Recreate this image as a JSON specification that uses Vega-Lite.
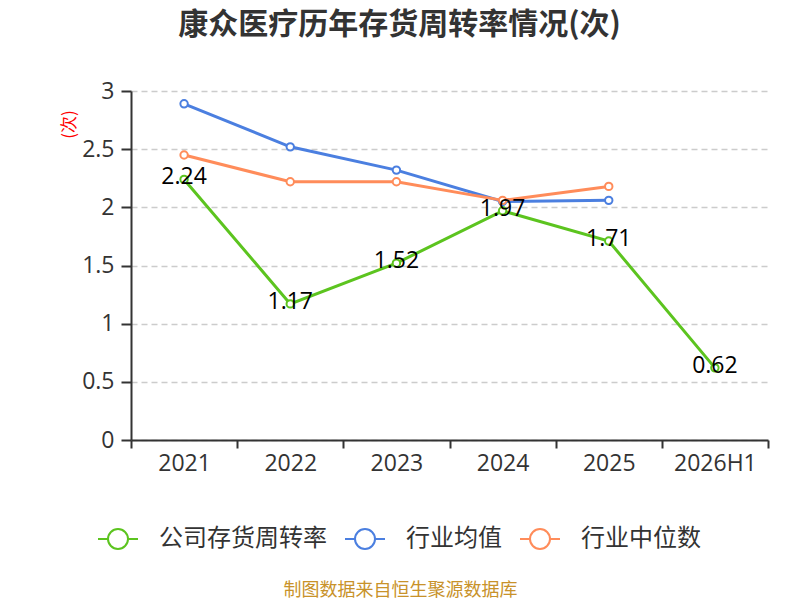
{
  "$schema": "https://vega.github.io/schema/vega-lite/v6.json",
  "width": 637,
  "height": 349,
  "autosize": {"type": "none"},
  "padding": {"left": 131, "top": 91, "right": 32, "bottom": 160},
  "background": "white",
  "title": {
    "text": "康众医疗历年存货周转率情况(次)",
    "anchor": "middle",
    "frame": "group",
    "dx": -50,
    "offset": 40,
    "fontSize": 30,
    "fontWeight": "bold",
    "font": "Noto Sans CJK SC",
    "color": "#333333"
  },
  "config": {
    "view": {"stroke": null},
    "axis": {
      "labelFont": "Open Sans",
      "labelFontSize": 23,
      "labelColor": "#333333",
      "domainColor": "#333333",
      "tickColor": "#333333",
      "domainWidth": 2,
      "tickWidth": 2
    }
  },
  "data": {
    "values": [
      {"year": "2021", "series": "公司存货周转率", "value": 2.24},
      {"year": "2022", "series": "公司存货周转率", "value": 1.17},
      {"year": "2023", "series": "公司存货周转率", "value": 1.52},
      {"year": "2024", "series": "公司存货周转率", "value": 1.97},
      {"year": "2025", "series": "公司存货周转率", "value": 1.71},
      {"year": "2026H1", "series": "公司存货周转率", "value": 0.62},
      {"year": "2021", "series": "行业均值", "value": 2.89},
      {"year": "2022", "series": "行业均值", "value": 2.52},
      {"year": "2023", "series": "行业均值", "value": 2.32},
      {"year": "2024", "series": "行业均值", "value": 2.05},
      {"year": "2025", "series": "行业均值", "value": 2.06},
      {"year": "2021", "series": "行业中位数", "value": 2.45},
      {"year": "2022", "series": "行业中位数", "value": 2.22},
      {"year": "2023", "series": "行业中位数", "value": 2.22},
      {"year": "2024", "series": "行业中位数", "value": 2.06},
      {"year": "2025", "series": "行业中位数", "value": 2.18}
    ]
  },
  "encoding": {
    "x": {
      "field": "year",
      "type": "nominal",
      "sort": null,
      "scale": {"paddingInner": 0, "paddingOuter": 0},
      "axis": {
        "labelAngle": 0,
        "tickBand": "extent",
        "tickSize": 8,
        "labelPadding": 4,
        "title": "制图数据来自恒生聚源数据库",
        "titleColor": "#c8922a",
        "titleFont": "Noto Sans CJK SC",
        "titleFontSize": 18,
        "titleFontWeight": "normal",
        "titleX": 269,
        "titleY": 150,
        "titleAlign": "center",
        "titleBaseline": "middle"
      }
    },
    "y": {
      "field": "value",
      "type": "quantitative",
      "scale": {"domain": [0, 3]},
      "axis": {
        "values": [0, 0.5, 1, 1.5, 2, 2.5, 3],
        "format": "~g",
        "tickSize": 10,
        "labelPadding": 7,
        "grid": true,
        "gridColor": "#cccccc",
        "gridDash": [6, 4],
        "gridWidth": 1.5,
        "title": "(次)",
        "titleColor": "#ff0000",
        "titleFont": "Noto Sans CJK SC",
        "titleFontSize": 17,
        "titleFontWeight": "normal",
        "titleX": -62,
        "titleY": 33,
        "titleAlign": "center",
        "titleBaseline": "middle"
      }
    },
    "color": {
      "field": "series",
      "type": "nominal",
      "scale": {
        "domain": ["公司存货周转率", "行业均值", "行业中位数"],
        "range": ["#5cc41f", "#4b7fe0", "#ff8c5a"]
      },
      "legend": {
        "title": null,
        "orient": "none",
        "direction": "horizontal",
        "legendX": -34,
        "legendY": 427,
        "symbolType": "M-1,0L-0.5,0M0.5,0L1,0M-0.5,0A0.5,0.5,0,1,1,0.5,0A0.5,0.5,0,1,1,-0.5,0",
        "symbolSize": 1600,
        "symbolStrokeWidth": 2,
        "symbolFillColor": "white",
        "labelFont": "Noto Sans CJK SC",
        "labelFontSize": 24,
        "labelColor": "#333333",
        "labelLimit": 400,
        "labelOffset": 20,
        "columnPadding": 14
      }
    }
  },
  "layer": [
    {"mark": {"type": "line", "strokeWidth": 3}},
    {"mark": {"type": "point", "filled": false, "fill": "white", "fillOpacity": 1, "strokeWidth": 2, "size": 55, "opacity": 1}},
    {
      "transform": [{"filter": "datum.series === '公司存货周转率'"}],
      "mark": {"type": "text", "font": "Open Sans", "fontSize": 23, "baseline": "middle", "dy": -2},
      "encoding": {"text": {"field": "value", "type": "quantitative", "format": ".2f"}, "color": {"value": "#000000"}}
    }
  ]
}
